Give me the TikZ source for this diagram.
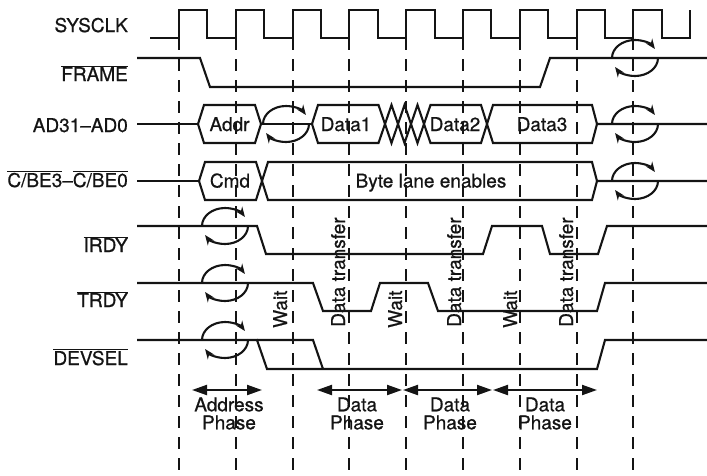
\documentclass[tikz,border=0pt]{standalone}
\usepackage{fontspec}
\setmainfont{TeX Gyre Heros}[FakeBold=0.7]
\usepackage{xcolor}
\definecolor{inkblack}{RGB}{20, 20, 20}
\usepackage{tikz}
\usetikzlibrary{arrows.meta, positioning, calc}

\newcommand{\ovl}[1]{$\overline{\mbox{#1}}$}

\begin{document}
\begin{tikzpicture}[x=1pt, y=-1pt, >=Stealth,
    sig/.style={line width=2.1pt, inkblack},
    guide/.style={line width=2.1pt, inkblack, dash pattern=on 12pt off 9pt},
    lbl/.style={inner sep=0pt, text=inkblack, font=\fontsize{19pt}{18pt}\selectfont},
    phase/.style={line width=2.1pt, inkblack, {Triangle[length=15pt,width=10pt]}-{Triangle[length=15pt,width=10pt]}},
    turnaround/.pic={
        \draw[sig, -{Stealth[length=10pt,width=8pt]}] (-23,0) arc[start angle=180, end angle=330, x radius=23, y radius=18];
        \draw[sig, -{Stealth[length=10pt,width=8pt]}] (23,0) arc[start angle=0, end angle=150, x radius=23, y radius=18];
    }]
    \useasboundingbox (0,0) rectangle (707,475);

    % clock edges
    \foreach \x in {179,235.8,292.6,349.4,406.2,463,519.8,576.6,633.4}
        \draw[guide] (\x,38) -- (\x,475);

    % signal names
    \node[lbl, anchor=base east] (sysclk) at (128,32) {SYSCLK};
    \node[lbl, anchor=base east] (frame) at (128,81) {\ovl{FRAME}};
    \node[lbl, anchor=base east] (ad) at (128,132) {AD31–AD0};
    \node[lbl, anchor=base east] (cbe) at (128,187) {\ovl{C/BE3}–\ovl{C/BE0}};
    \node[lbl, anchor=base east] (irdy) at (128,252) {\ovl{IRDY}};
    \node[lbl, anchor=base east] (trdy) at (128,307) {\ovl{TRDY}};
    \node[lbl, anchor=base east] (devsel) at (128,365) {\ovl{DEVSEL}};

    % SYSCLK
    \draw[sig] (150,38) -- (179,38)
        \foreach \k in {0,...,8} { -- ++(0,-28) -- ++(28.4,0) -- ++(0,28) -- ++(28.4,0) } -- ++(0,-28);

    % FRAME
    \draw[sig] (137,58) -- (200,58) -- (210,87) -- (540,87) -- (550,58) -- (707,58);

    % AD31-AD0
    \draw[sig] (137,124) -- (198,124);
    \draw[sig] (198,124) -- (204,105) -- (255,105) -- (261,124) -- (255,143) -- (204,143) -- cycle;
    \draw[sig] (261,124) -- (312,124);
    \draw[sig] (312,124) -- (318,105) -- (378.5,105) -- (391.5,143) -- (404.5,105) -- (417.5,143)
        -- (430.5,105) -- (481,105) -- (493,143) -- (592,143) -- (597,124) -- (707,124);
    \draw[sig] (312,124) -- (318,143) -- (378.5,143) -- (391.5,105) -- (404.5,143) -- (417.5,105)
        -- (430.5,143) -- (481,143) -- (493,105) -- (592,105) -- (597,124);
    \node[lbl, anchor=base] (addr) at (229.5,131) {Addr};
    \node[lbl, anchor=base] (data1) at (346,131) {Data1};
    \node[lbl, anchor=base] (data2) at (455,131) {Data2};
    \node[lbl, anchor=base] (data3) at (542,131) {Data3};

    % C/BE3-C/BE0
    \draw[sig] (137,181) -- (199,181);
    \draw[sig] (199,181) -- (205,162) -- (256,162) -- (268,200) -- (592,200) -- (597,181) -- (707,181);
    \draw[sig] (199,181) -- (205,200) -- (256,200) -- (268,162) -- (592,162) -- (597,181);
    \node[lbl, anchor=base] (cmd) at (230,187.5) {Cmd};
    \node[lbl, anchor=base] (lanes) at (431,187.5) {Byte lane enables};

    % IRDY, TRDY, DEVSEL
    \draw[sig] (137,226) -- (257,226) -- (266,254) -- (483,254) -- (492,226) -- (542,226)
        -- (550,254) -- (598,254) -- (607,226) -- (707,226);
    \draw[sig] (137,283) -- (313,283) -- (323,311) -- (371,311) -- (380,283) -- (428,283)
        -- (438,311) -- (597,311) -- (605,283) -- (707,283);
    \draw[sig] (137,340) -- (257,340) -- (267,369) -- (597,369) -- (605,340) -- (707,340);
    \draw[sig] (257,340) -- (313,340) -- (323,369);

    % turnaround cycles
    \pic at (286,124) {turnaround};
    \pic at (225,226) {turnaround};
    \pic at (225,283) {turnaround};
    \pic at (225,340) {turnaround};
    \pic at (635,58) {turnaround};
    \pic at (635,124) {turnaround};
    \pic at (635,181) {turnaround};

    % wait / transfer marks
    \node[lbl, rotate=90, anchor=base west] (wait1) at (287,328) {Wait};
    \node[lbl, rotate=90, anchor=base west] (xfer1) at (345,327) {Data transfer};
    \node[lbl, rotate=90, anchor=base west] (wait2) at (402,328) {Wait};
    \node[lbl, rotate=90, anchor=base west] (xfer2) at (461,327) {Data transfer};
    \node[lbl, rotate=90, anchor=base west] (wait3) at (517,328) {Wait};
    \node[lbl, rotate=90, anchor=base west] (xfer3) at (573,327) {Data transfer};

    % phases
    \coordinate (ph0) at (192,390);
    \coordinate (ph1) at (262,390);
    \coordinate (ph2) at (317,390);
    \coordinate (ph3) at (402,390);
    \coordinate (ph4) at (403,390);
    \coordinate (ph5) at (492,390);
    \coordinate (ph6) at (493,390);
    \coordinate (ph7) at (597,390);
    \draw[phase] (ph0) -- (ph1);
    \draw[phase] (ph2) -- (ph3);
    \draw[phase] (ph4) -- (ph5);
    \draw[phase] (ph6) -- (ph7);
    \node[lbl, align=center] (addrph) at (229,413.5) {Address\\Phase};
    \node[lbl, align=center] (dataph1) at (357,413.5) {Data\\Phase};
    \node[lbl, align=center] (dataph2) at (450,413.5) {Data\\Phase};
    \node[lbl, align=center] (dataph3) at (545,413.5) {Data\\Phase};
\end{tikzpicture}
\end{document}
